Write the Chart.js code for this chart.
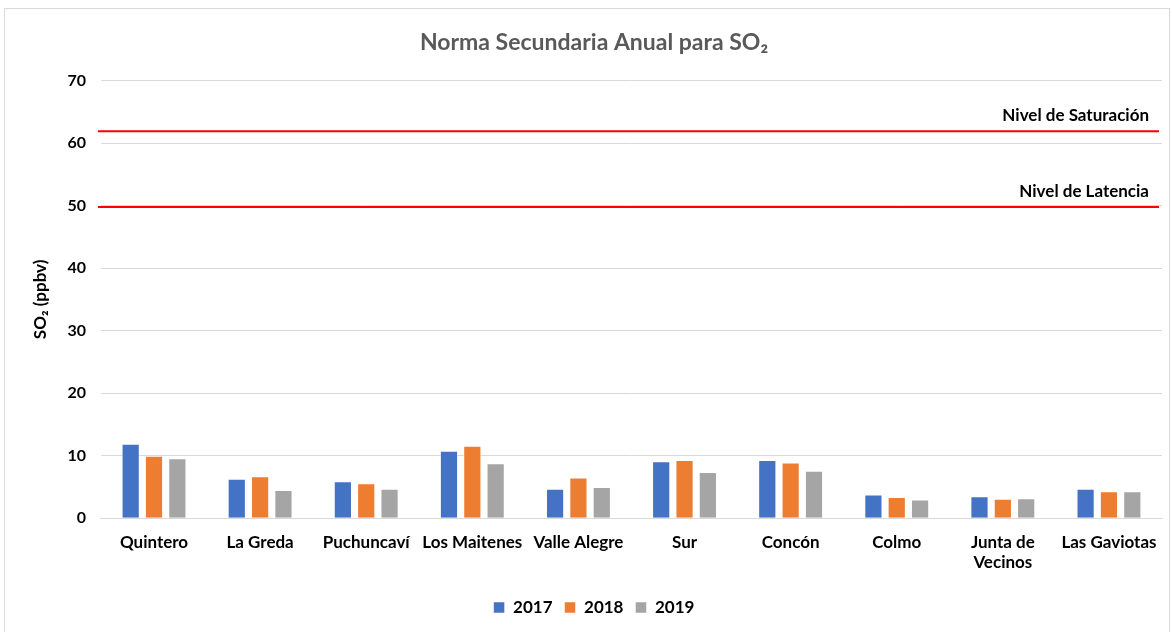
<!DOCTYPE html>
<html>
<head>
<meta charset="utf-8">
<script src="https://cdn.jsdelivr.net/npm/chart.js@4/dist/chart.umd.min.js"></script>
<style>
  html, body { margin: 0; padding: 0; background: #fff; }
  #marco { position: absolute; left: 4px; top: 8px; width: 1166px; height: 640px; border: 1px solid #D9D9D9; box-sizing: border-box; }
  #caja { position: absolute; left: 0; top: 0; width: 1172px; height: 632px; }
</style>
</head>
<body>
<div id="marco"></div>
<div id="caja"><canvas id="grafico"></canvas></div>
<script>
var estaciones = ['Quintero', 'La Greda', 'Puchuncaví', 'Los Maitenes', 'Valle Alegre', 'Sur', 'Concón', 'Colmo', ['Junta de', 'Vecinos'], 'Las Gaviotas'];
var anios = ['2017', '2018', '2019'];
var so2_2017 = [11.9, 6.3, 5.9, 10.8, 4.7, 9.1, 9.3, 3.8, 3.5, 4.7];
var so2_2018 = [10.0, 6.7, 5.6, 11.6, 6.5, 9.3, 8.9, 3.4, 3.1, 4.3];
var so2_2019 = [9.6, 4.5, 4.7, 8.8, 5.0, 7.4, 7.6, 3.0, 3.2, 4.3];
var niveles = [61.9, 49.8];
var nombresNiveles = ['Nivel de Saturación', 'Nivel de Latencia'];
var colores = ['#4472C4', '#ED7D31', '#A5A5A5'];

var fuente = 'Lato, "Open Sans", sans-serif';

// lineas rojas de la norma
var lineasNorma = {
    id: 'lineasNorma',
    afterDatasetsDraw: function(chart){
        var ctx = chart.ctx;
        var area = chart.chartArea;
        var y = chart.scales.y;
        ctx.save();
        for (var i = 0; i < niveles.length; i++) {
            var py = y.getPixelForValue(niveles[i]);
            ctx.strokeStyle = '#FF0000';
            ctx.lineWidth = 2;
            ctx.beginPath();
            ctx.moveTo(area.left - 3, py);
            ctx.lineTo(area.right - 3, py);
            ctx.stroke();
            ctx.fillStyle = '#000';
            ctx.font = 'bold 17px ' + fuente;
            ctx.textAlign = 'right';
            ctx.textBaseline = 'alphabetic';
            ctx.fillText(nombresNiveles[i], area.right - 13, py - 10);
        }
        ctx.restore();
    }
};

var series = [so2_2017, so2_2018, so2_2019].map(function(d, i){
    return {
        label: anios[i],
        data: d,
        backgroundColor: colores[i],
        borderColor: 'rgba(255,255,255,0.5)',
        borderWidth: 1,
        barPercentage: 0.78,
        categoryPercentage: 0.66
    };
});

var grafico = document.getElementById('grafico').getContext('2d');
var chart = new Chart(grafico, {
    type: 'bar',
    data: { labels: estaciones, datasets: series },
    plugins: [lineasNorma],
    options: {
        responsive: true,
        maintainAspectRatio: false,
        animation: false,
        layout: { padding: { left: 26, right: 10, top: 17, bottom: 6 } },
        plugins: {
            title: {
                display: true,
                text: 'Norma Secundaria Anual para SO₂',
                color: '#595959',
                font: { family: fuente, size: 23, weight: 'bold' },
                padding: { top: 12, bottom: 24 }
            },
            legend: {
                position: 'bottom',
                labels: {
                    color: '#000',
                    boxWidth: 11,
                    boxHeight: 11,
                    padding: 12,
                    font: { family: fuente, size: 17, weight: 'bold' }
                }
            },
            tooltip: { enabled: false }
        },
        scales: {
            x: {
                grid: { display: false, drawTicks: false },
                border: { color: '#D9D9D9', width: 1 },
                ticks: {
                    color: '#000',
                    maxRotation: 0,
                    autoSkip: false,
                    padding: 14,
                    font: { family: fuente, size: 17, weight: 'bold' }
                }
            },
            y: {
                min: 0,
                max: 70,
                ticks: {
                    stepSize: 10,
                    color: '#000',
                    padding: 15,
                    font: { family: fuente, size: 16, weight: 'bold' }
                },
                grid: { color: '#D9D9D9', drawTicks: false },
                border: { display: false },
                title: {
                    display: true,
                    text: 'SO₂ (ppbv)',
                    color: '#000',
                    font: { family: fuente, size: 17, weight: 'bold' },
                    padding: { top: 4, bottom: 2 }
                }
            }
        }
    }
});
</script>
</body>
</html>
